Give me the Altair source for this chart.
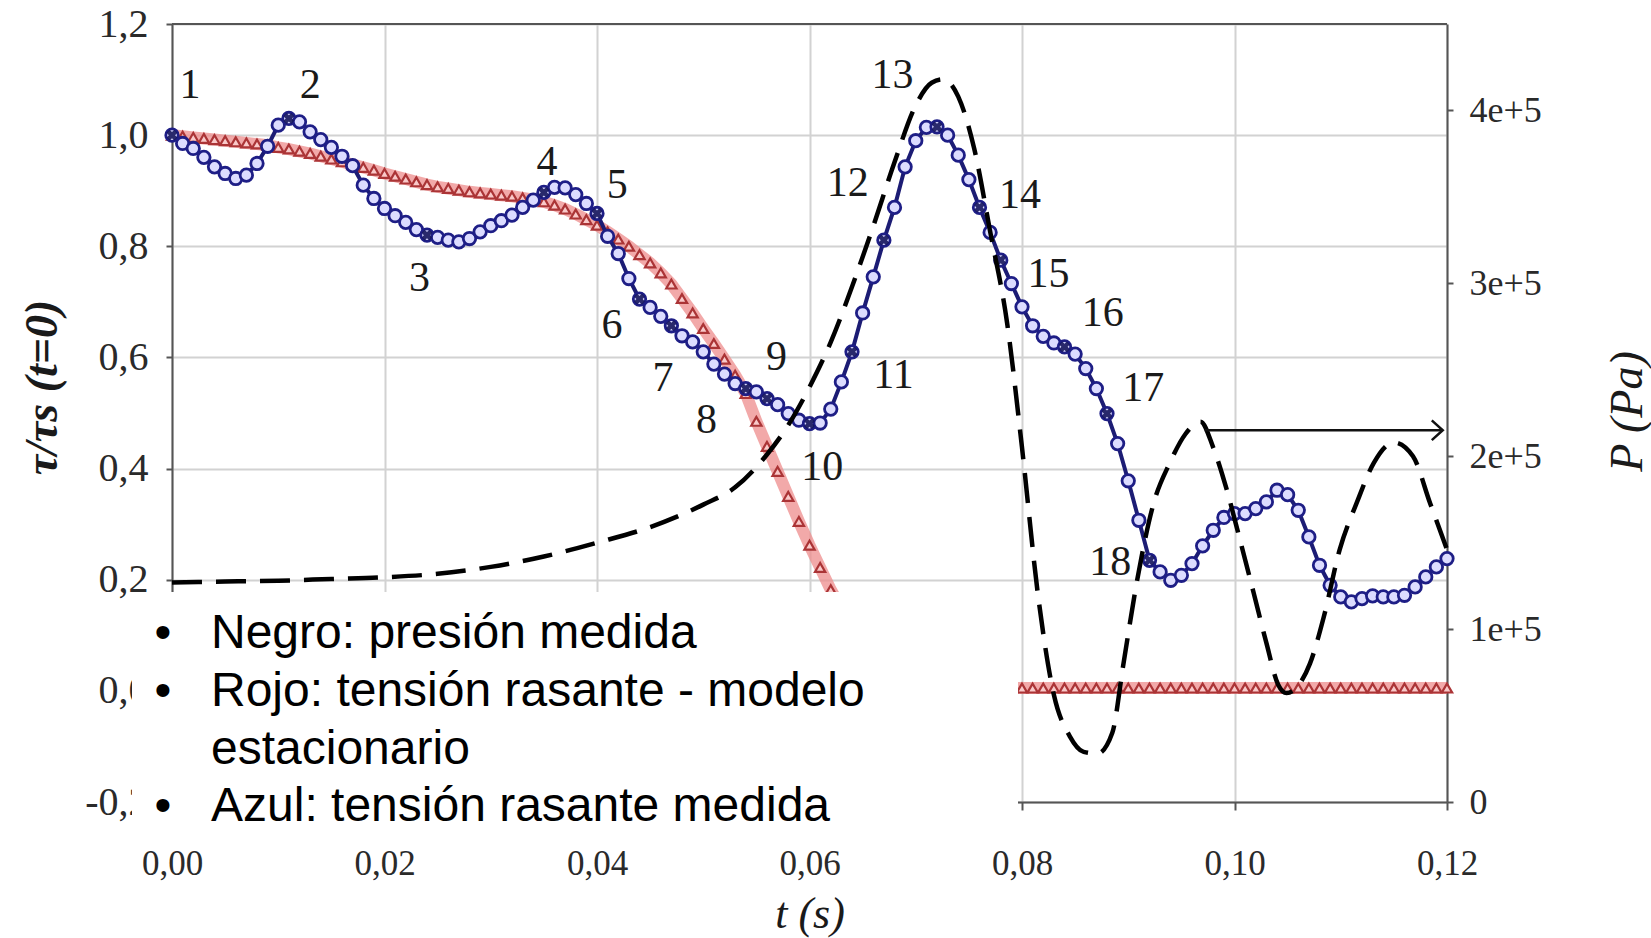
import altair as alt
import pandas as pd

# ---------------- data ----------------
TIME_S = [round(i * 0.001, 3) for i in range(121)]

BLUE_MEASURED = [
    1.000, 0.985, 0.976, 0.960, 0.943, 0.931, 0.922, 0.928, 0.949, 0.980,
    1.018, 1.030, 1.024, 1.006, 0.992, 0.978, 0.962, 0.945, 0.910, 0.886,
    0.868, 0.855, 0.843, 0.830, 0.820, 0.816, 0.811, 0.808, 0.814, 0.826,
    0.837, 0.846, 0.856, 0.870, 0.883, 0.897, 0.906, 0.905, 0.893, 0.877,
    0.859, 0.818, 0.787, 0.742, 0.705, 0.690, 0.674, 0.657, 0.639, 0.628,
    0.610, 0.588, 0.570, 0.553, 0.544, 0.538, 0.526, 0.515, 0.499, 0.487,
    0.481, 0.482, 0.507, 0.556, 0.610, 0.680, 0.745, 0.811, 0.870, 0.943,
    0.990, 1.014, 1.015, 1.000, 0.964, 0.920, 0.870, 0.825, 0.775, 0.733,
    0.691, 0.657, 0.638, 0.626, 0.619, 0.606, 0.580, 0.544, 0.499, 0.445,
    0.378, 0.307, 0.235, 0.214, 0.199, 0.208, 0.229, 0.261, 0.289, 0.312,
    0.319, 0.319, 0.328, 0.340, 0.361, 0.353, 0.325, 0.277, 0.226, 0.190,
    0.169, 0.160, 0.166, 0.171, 0.169, 0.169, 0.172, 0.187, 0.205, 0.223, 0.238,
]

RED_MODEL = [
    1.000, 0.998, 0.996, 0.994, 0.992, 0.990, 0.988, 0.986, 0.984, 0.982,
    0.978, 0.975, 0.971, 0.967, 0.962, 0.957, 0.952, 0.947, 0.942, 0.937,
    0.931, 0.926, 0.921, 0.916, 0.911, 0.907, 0.904, 0.901, 0.898, 0.896,
    0.894, 0.892, 0.890, 0.887, 0.884, 0.880, 0.874, 0.867, 0.858, 0.848,
    0.838, 0.826, 0.813, 0.800, 0.785, 0.770, 0.752, 0.732, 0.706, 0.680,
    0.652, 0.625, 0.597, 0.568, 0.535, 0.485, 0.440, 0.395, 0.350, 0.305,
    0.262, 0.222, 0.182, 0.148, 0.115, 0.085, 0.058, 0.035, 0.018, 0.008,
    0.005, 0.005, 0.005, 0.005, 0.005, 0.005, 0.005, 0.005, 0.005, 0.005,
    0.005, 0.005, 0.005, 0.005, 0.005, 0.005, 0.005, 0.005, 0.005, 0.005,
    0.005, 0.005, 0.005, 0.005, 0.005, 0.005, 0.005, 0.005, 0.005, 0.005,
    0.005, 0.005, 0.005, 0.005, 0.005, 0.005, 0.005, 0.005, 0.005, 0.005,
    0.005, 0.005, 0.005, 0.005, 0.005, 0.005, 0.005, 0.005, 0.005, 0.005, 0.005,
]

PRESSURE_T = [
    0.000, 0.005, 0.010, 0.015, 0.020, 0.025, 0.030, 0.035, 0.040, 0.045,
    0.050, 0.053, 0.056, 0.058, 0.060, 0.062, 0.064, 0.066, 0.068, 0.070,
    0.0715, 0.0726, 0.074, 0.0755, 0.077, 0.0786, 0.080, 0.0815, 0.083, 0.0845,
    0.0858, 0.0871, 0.0885, 0.0895, 0.0908, 0.0924, 0.0939, 0.0954, 0.0968, 0.0980,
    0.0993, 0.1005, 0.1018, 0.1030, 0.1041, 0.1049, 0.1058, 0.1071, 0.1084, 0.1099,
    0.1115, 0.1131, 0.1150, 0.1168, 0.1184, 0.1200,
]
PRESSURE_PA = [
    127000, 127500, 128000, 129000, 130000, 132000, 136000, 142000, 150000, 159000,
    172000, 182000, 201000, 218000, 240000, 266000, 298000, 333000, 370000, 403000,
    416000, 418000, 408000, 378000, 330000, 277000, 205000, 120000, 62000, 38000,
    29000, 28000, 40000, 78000, 127000, 173000, 196000, 213000, 220000, 205000,
    180000, 152000, 121000, 92000, 68000, 63000, 66000, 80000, 107000, 146000,
    173000, 196000, 208000, 200000, 173000, 146000,
]

POINT_LABELS = [str(i) for i in range(1, 19)]
LABEL_T = [0.0017, 0.0130, 0.0233, 0.0353, 0.0419, 0.0414, 0.0462, 0.0503, 0.0569,
           0.0612, 0.0679, 0.0636, 0.0678, 0.0798, 0.0825, 0.0876, 0.0914, 0.0883]
LABEL_V = [1.090, 1.090, 0.743, 0.952, 0.910, 0.658, 0.563, 0.487, 0.601,
           0.403, 0.568, 0.914, 1.108, 0.892, 0.751, 0.680, 0.545, 0.232]
MARK_IDX = [0, 11, 24, 35, 40, 44, 47, 54, 56, 60, 64, 67, 72, 76, 78, 84, 88, 92]

ARROW_T = [0.0972, 0.1196]
ARROW_P = 215000

LEGEND_LINES = ["Negro: presión medida", "Rojo: tensión rasante - modelo",
                "estacionario", "Azul: tensión rasante medida"]
LEGEND_BULLET = ["•", "•", "", "•"]
LEGEND_Y = [610, 668, 726, 783]

X_TICKS = [0.0, 0.02, 0.04, 0.06, 0.08, 0.10, 0.12]
Y_TICKS = [-0.2, 0.0, 0.2, 0.4, 0.6, 0.8, 1.0, 1.2]
P_TICKS = [0, 100000, 200000, 300000, 400000]

# ---------------- tables ----------------
blue_df = pd.DataFrame({"t": TIME_S, "v": BLUE_MEASURED})
red_df = pd.DataFrame({"t": TIME_S, "v": RED_MODEL})
p_df = pd.DataFrame({"t": PRESSURE_T, "p": PRESSURE_PA})
lab_df = pd.DataFrame({"t": LABEL_T, "v": LABEL_V, "txt": POINT_LABELS})
mark_df = pd.DataFrame({"t": [TIME_S[i] for i in MARK_IDX],
                        "v": [BLUE_MEASURED[i] for i in MARK_IDX]})
arrow_df = pd.DataFrame({"t": [ARROW_T[0]], "t2": [ARROW_T[1]], "p": [ARROW_P]})
head_df = pd.DataFrame({"t": [ARROW_T[1]], "p": [ARROW_P]})
leg_df = pd.DataFrame({"txt": LEGEND_LINES, "b": LEGEND_BULLET, "py": LEGEND_Y})

W, H = 1275, 778
SERIF = "Liberation Serif"
AX = "#555555"

x_enc = alt.X(
    "t:Q",
    scale=alt.Scale(domain=[0, 0.12], nice=False, zero=False),
    axis=alt.Axis(
        values=X_TICKS, labelFlush=False,
        labelExpr="replace(format(datum.value, '.2f'), '.', ',')",
        title="t (s)", grid=True, gridColor="#d2d2d2", gridWidth=2,
        domainColor=AX, domainWidth=2, tickColor=AX, tickWidth=2, tickSize=8,
        labelFont=SERIF, labelFontSize=35, labelPadding=36, labelColor="#2a2a2a",
        titleFont=SERIF, titleFontStyle="italic", titleFontWeight="normal",
        titleFontSize=44, titleX=W / 2, titleY=112, titleBaseline="middle",
        titleColor="#1a1a1a",
    ),
)

y_left = alt.Y(
    "v:Q",
    scale=alt.Scale(domain=[-0.2, 1.2], nice=False, zero=False),
    axis=alt.Axis(
        orient="left", values=Y_TICKS, labelFlush=False,
        labelExpr="replace(replace(format(datum.value, '.1f'), '.', ','), '\u2212', '-')",
        title="τ/τs (t=0)", grid=True, gridColor="#d2d2d2", gridWidth=2,
        domainColor=AX, domainWidth=2, tickColor=AX, tickWidth=2, tickSize=6,
        labelFont=SERIF, labelFontSize=40, labelPadding=18, labelColor="#2a2a2a",
        titleFont=SERIF, titleFontStyle="italic", titleFontWeight="bold",
        titleFontSize=46, titleX=-130, titleY=363, titleAngle=270,
        titleBaseline="middle", titleColor="#1a1a1a",
    ),
)

y_right = alt.Y(
    "p:Q",
    scale=alt.Scale(domain=[0, 450000], nice=False, zero=False),
    axis=alt.Axis(
        orient="right", values=P_TICKS, labelFlush=False,
        labelExpr="datum.value == 0 ? '0' : format(datum.value / 100000, 'd') + 'e+5'",
        title="P (Pa)", grid=False,
        domainColor=AX, domainWidth=2, tickColor=AX, tickWidth=2, tickSize=6,
        labelFont=SERIF, labelFontSize=36, labelPadding=16, labelColor="#2a2a2a",
        titleFont=SERIF, titleFontStyle="italic", titleFontWeight="normal",
        titleFontSize=46, titleX=180, titleY=387, titleAngle=270,
        titleBaseline="middle", titleColor="#1a1a1a",
    ),
)

red_line = alt.Chart(red_df).mark_line(color="#ee8c8c", strokeWidth=12, opacity=0.75).encode(x=x_enc, y=y_left)
red_pts = alt.Chart(red_df).mark_point(
    shape="triangle-up", filled=False, fill="#f9c9c9", fillOpacity=1,
    stroke="#ab3436", strokeWidth=2.2, size=105, opacity=1,
).encode(x=x_enc, y=y_left)
blue_line = alt.Chart(blue_df).mark_line(color="#1c1c74", strokeWidth=4).encode(x=x_enc, y=y_left)
blue_pts = alt.Chart(blue_df).mark_point(
    shape="circle", filled=False, fill="#dcdcff", fillOpacity=1,
    stroke="#1e1e86", strokeWidth=2.8, size=155, opacity=1,
).encode(x=x_enc, y=y_left)
cross_pts = alt.Chart(mark_df).mark_point(
    shape="cross", angle=45, filled=True, color="#15155c", size=120, opacity=0.9,
).encode(x=x_enc, y=y_left)
num_text = alt.Chart(lab_df).mark_text(
    font=SERIF, fontSize=42, color="#1a1a1a", baseline="middle", align="center",
).encode(x=x_enc, y=y_left, text="txt:N")

left = alt.layer(red_line, red_pts, blue_line, blue_pts, cross_pts, num_text)

p_line = alt.Chart(p_df).mark_line(
    color="black", strokeWidth=4.5, strokeDash=[30, 14], interpolate="monotone",
).encode(x=x_enc, y=y_right)
arrow = alt.Chart(arrow_df).mark_rule(color="#111111", strokeWidth=2.5).encode(
    x=x_enc, x2="t2:Q", y=y_right)
head = alt.Chart(head_df).mark_point(
    shape="M -1 -0.9 L 0 0 L -1 0.9", filled=False, stroke="#111111",
    strokeWidth=2.5, size=480, opacity=1,
).encode(x=x_enc, y=y_right)

right = alt.layer(p_line, arrow, head)

one = pd.DataFrame({"a": [0]})
top_border = alt.Chart(one).mark_rule(color=AX, strokeWidth=2).encode(
    x=alt.value(0), x2=alt.value(W), y=alt.value(0))
box = alt.Chart(one).mark_rect(color="white", opacity=1).encode(
    x=alt.value(-40), x2=alt.value(846), y=alt.value(568), y2=alt.value(816))
leg_text = alt.Chart(leg_df).mark_text(
    font="Liberation Sans", fontSize=48, color="black", align="left", baseline="middle",
).encode(x=alt.value(39), y=alt.Y("py:Q", scale=None, axis=None), text="txt:N")
leg_bullet = alt.Chart(leg_df).mark_text(
    font="Liberation Sans", fontSize=48, color="black", align="center", baseline="middle",
).encode(x=alt.value(-9), y=alt.Y("py:Q", scale=None, axis=None), text="b:N")

chart = alt.layer(left, right, top_border, box, leg_text, leg_bullet).resolve_scale(
    y="independent"
).properties(
    width=W, height=H,
    padding={"left": 172, "top": 24, "right": 204, "bottom": 136},
    autosize=alt.AutoSizeParams(type="none"),
    background="white",
).configure_view(stroke=None)

chart.save("out.html", embed_options={"renderer": "svg", "actions": False})
